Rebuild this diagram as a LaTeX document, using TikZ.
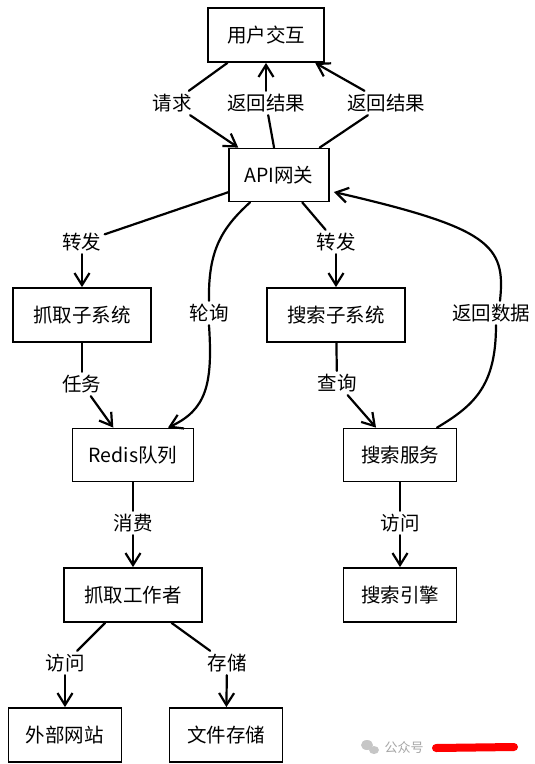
\documentclass[tikz,border=0pt]{standalone}
\usepackage{fontspec}
\setmainfont{Noto Sans CJK SC}
\usetikzlibrary{arrows.meta}
\begin{document}
\begin{tikzpicture}[x=1pt,y=-1pt,
  box/.style={draw, line width=1.8pt, inner sep=0pt, font=\fontsize{19.5}{22}\selectfont},
  lab/.style={inner sep=3pt, font=\fontsize{19.5}{22}\selectfont},
  conn/.style={line width=2.2pt, line cap=round},
  arr/.style={conn, -{Straight Barb[length=12pt,width=15pt,line width=2.2pt]}}]
\useasboundingbox[fill=white] (0,0) rectangle (535,764);
% boxes
\node[box, minimum width=116pt, minimum height=54pt] (ui) at (266,35) {用户交互};
\node[box, minimum width=100pt, minimum height=53pt] (api) at (279,175) {API网关};
\node[box, minimum width=138pt, minimum height=54pt] (crawl) at (82,315) {抓取子系统};
\node[box, minimum width=138pt, minimum height=54pt] (ssub) at (336,315) {搜索子系统};
\node[box, minimum width=121pt, minimum height=53pt] (redis) at (133,455) {Redis队列};
\node[box, minimum width=113pt, minimum height=53pt] (ssvc) at (400,455) {搜索服务};
\node[box, minimum width=138pt, minimum height=54pt] (worker) at (133,595) {抓取工作者};
\node[box, minimum width=113pt, minimum height=54pt] (engine) at (400,595) {搜索引擎};
\node[box, minimum width=113pt, minimum height=54pt] (ext) at (65,735) {外部网站};
\node[box, minimum width=113pt, minimum height=54pt] (file) at (226,735) {文件存储};
% labels
\node[lab] (lreq) at (172,103) {请求};
\node[lab] (lr1) at (266,103) {返回结果};
\node[lab] (lr2) at (386,103) {返回结果};
\node[lab] (lf1) at (82,242) {转发};
\node[lab] (lpoll) at (209,313) {轮询};
\node[lab] (lf2) at (336,242) {转发};
\node[lab] (lrd) at (491,313) {返回数据};
\node[lab] (ltask) at (82,384) {任务};
\node[lab] (lq) at (337,383) {查询};
\node[lab] (lc) at (133,523) {消费};
\node[lab] (lv1) at (400,523) {访问};
\node[lab] (lv2) at (65,663) {访问};
\node[lab] (ls) at (227,663) {存储};
% connectors
\draw[conn] (ui) -- (lreq);
\draw[arr] (lreq) -- (api);
\draw[conn] (api) -- (lr1);
\draw[arr] (lr1) -- (ui);
\draw[conn] (api) -- (lr2);
\draw[arr] (lr2) -- (ui);
\draw[conn] (api) -- (lf1);
\draw[arr] (lf1) -- (crawl);
\draw[conn] ([xshift=-29pt]api.south) .. controls (222,228) and (208,250) .. (lpoll.north);
\draw[arr] (lpoll.south) .. controls (213,385) and (206,410) .. ([xshift=35pt]redis.north);
\draw[conn] (api) -- (lf2);
\draw[arr] (lf2) -- (ssub);
\draw[conn] ([xshift=37pt]ssvc.north) .. controls (475,405) and (496,385) .. ([xshift=5pt]lrd.south);
\draw[arr] ([xshift=9pt]lrd.north) .. controls (506,245) and (490,228) .. ([xshift=4pt,yshift=-17pt]api.east);
\draw[conn] (crawl) -- (ltask);
\draw[arr] (ltask) -- (redis);
\draw[conn] (ssub) -- (lq);
\draw[arr] (lq) -- (ssvc);
\draw[conn] (redis) -- (lc);
\draw[arr] (lc) -- (worker);
\draw[conn] (ssvc) -- (lv1);
\draw[arr] (lv1) -- (engine);
\draw[conn] (worker) -- (lv2);
\draw[arr] (lv2) -- (ext);
\draw[conn] (worker) -- (ls);
\draw[arr] (ls) -- (file);
% watermark
\fill[gray!45] (367,745) ellipse (6pt and 5pt);
\fill[gray!45] (374,750) ellipse (5pt and 4pt);
\node[text=gray!70, font=\fontsize{13}{15}\selectfont, inner sep=0pt] (wm) at (404,748) {公众号};
\draw[red, line width=8pt, line cap=round] (436,748) -- (514,747);
\end{tikzpicture}
\end{document}
